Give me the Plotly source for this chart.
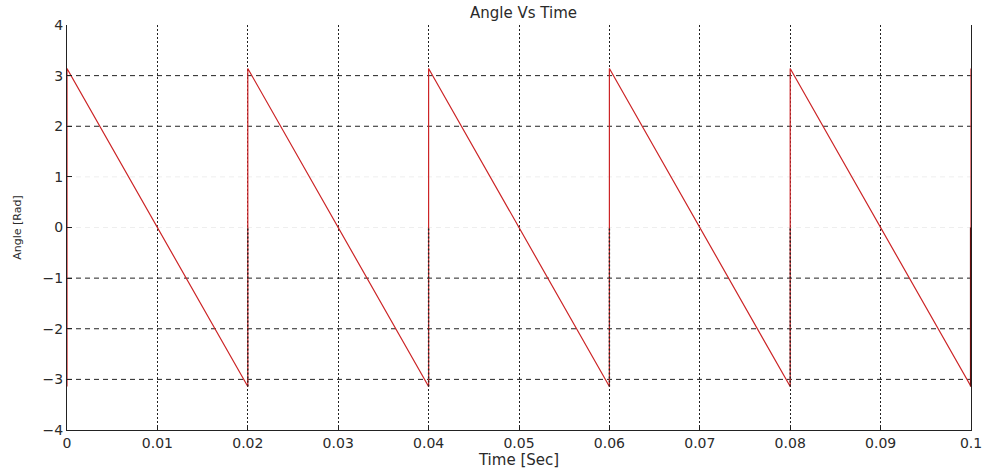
import plotly.graph_objects as go

PI = 3.1416
# Sawtooth angle data: vertices of the wrapped phase
time_s = [0.0, 0.0, 0.02, 0.02, 0.04, 0.04, 0.06, 0.06, 0.08, 0.08, 0.1, 0.1]
angle_rad = [-PI, PI, -PI, PI, -PI, PI, -PI, PI, -PI, PI, -PI, PI]

# dark segments drawn at the wrap instants (from -pi up to 0)
jump_times = [0.02, 0.04, 0.06, 0.08]
jump_lo = -PI
jump_hi = 0.0
last_jump = 0.1

x_ticks = [0, 0.01, 0.02, 0.03, 0.04, 0.05, 0.06, 0.07, 0.08, 0.09, 0.1]
x_labels = ["0", "0.01", "0.02", "0.03", "0.04", "0.05", "0.06", "0.07", "0.08", "0.09", "0.1"]
y_ticks = [-4, -3, -2, -1, 0, 1, 2, 3, 4]
grid_y_strong = [-3, -2, -1, 2, 3]
grid_y_faint = [0, 1]

FAM = "DejaVu Sans, Verdana, sans-serif"

fig = go.Figure()
fig.add_trace(go.Scatter(x=time_s, y=angle_rad, mode="lines",
                         line=dict(color="#cc2426", width=1.2), showlegend=False))

jx, jy = [], []
for t in jump_times:
    jx += [t, t, None]
    jy += [jump_lo, jump_hi, None]
fig.add_trace(go.Scatter(x=jx, y=jy, mode="lines",
                         line=dict(color="#222222", width=1.4, dash="2px,2px"), showlegend=False))
fig.add_trace(go.Scatter(x=[last_jump, last_jump], y=[jump_lo, jump_hi], mode="lines",
                         line=dict(color="#6a0c0c", width=2.2), showlegend=False))

shapes = []
for yv in grid_y_strong:
    shapes.append(dict(type="line", xref="paper", x0=0, x1=1, yref="y", y0=yv, y1=yv,
                       line=dict(color="#222222", width=1, dash="5px,4px"), layer="below"))
for yv in grid_y_faint:
    shapes.append(dict(type="line", xref="paper", x0=0, x1=1, yref="y", y0=yv, y1=yv,
                       line=dict(color="#eeeeee", width=1, dash="5px,4px"), layer="below"))

fig.update_layout(
    width=994, height=473,
    margin=dict(l=67, r=14, t=25, b=38),
    paper_bgcolor="white", plot_bgcolor="white",
    font=dict(family=FAM, size=14, color="#2a2a2a"),
    shapes=shapes,
    title=dict(text="Angle Vs Time", x=(67 + 980) / 2 / 994, xanchor="center",
               y=1 - 13 / 473, yanchor="middle",
               font=dict(size=15, color="#2a2a2a", family=FAM)),
    xaxis=dict(range=[0, 0.1], tickvals=x_ticks, ticktext=x_labels,
               showgrid=True, gridcolor="#222222", griddash="2px,2px", gridwidth=1,
               showline=True, linecolor="#222222", linewidth=1,
               ticks="inside", ticklen=5, tickcolor="#222222",
               zeroline=False, tickfont=dict(size=14),
               title=dict(text="Time [Sec]", standoff=0, font=dict(size=15))),
    yaxis=dict(range=[-4, 4], tickvals=y_ticks,
               showgrid=False,
               showline=True, linecolor="#222222", linewidth=1, mirror=True,
               ticks="inside", ticklen=5, tickcolor="#222222",
               zeroline=False, tickfont=dict(size=14),
               title=dict(text="Angle [Rad]", standoff=18, font=dict(size=11))),
)

fig.write_html("out.html")
